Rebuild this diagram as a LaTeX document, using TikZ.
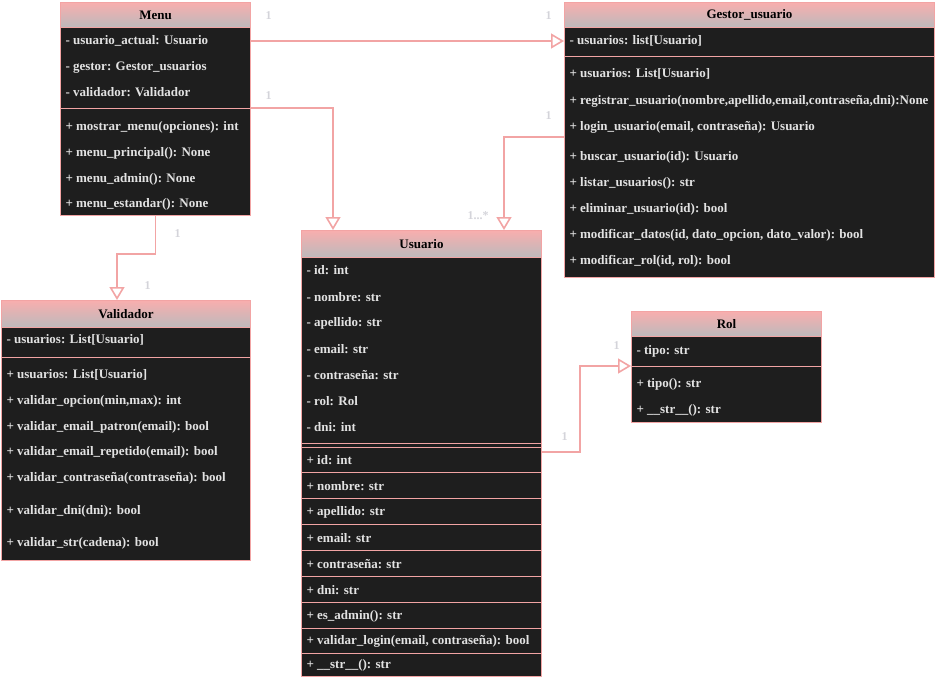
\documentclass[tikz,border=0pt]{standalone}
\usepackage{fontspec}
\setmainfont{Liberation Serif}
\usetikzlibrary{arrows.meta}

\definecolor{pinkline}{RGB}{242,164,164}
\definecolor{headtop}{RGB}{248,174,174}
\definecolor{headbottom}{RGB}{188,186,188}
\definecolor{bodyfill}{RGB}{30,30,30}
\definecolor{rowtext}{RGB}{226,226,226}
\definecolor{multgray}{RGB}{212,212,218}

\newcommand{\umlfont}{\bfseries\fontsize{13}{15}\selectfont}

\tikzset{every picture/.style={line width=1pt}}
\tikzset{
  classhead/.style={draw=pinkline, top color=headtop, bottom color=headbottom, inner sep=0pt, anchor=north west, font=\umlfont, text=black},
  classbody/.style={draw=pinkline, fill=bodyfill, inner sep=0pt, anchor=north west},
  row/.style={anchor=west, inner sep=0pt, font=\umlfont, text=rowtext},
  sepline/.style={draw=pinkline, line width=1pt},
  assoc/.style={draw=pinkline, line width=1.6pt, -{Triangle[open, length=13pt, width=15pt]}},
  mult/.style={anchor=west, inner sep=0pt, font=\bfseries\fontsize{12}{13}\selectfont, text=multgray}
}

\begin{document}
\begin{tikzpicture}[x=1pt,y=1pt,yscale=-1,xscale=1]
\useasboundingbox (0,0) rectangle (946,691);

%Class Menu
\node [classbody, minimum width=190pt, minimum height=188pt] (menubody) at (60,27) {};
\node [classhead, minimum width=190pt, minimum height=25pt] (menu) at (60,2) {Menu};
\draw [sepline] (60,108) -- (250,108);
% Text Node
\node [row] (menu-a1) at (65,41) {- usuario\_actual: Usuario};
\node [row] (menu-a2) at (65,67) {- gestor: Gestor\_usuarios};
\node [row] (menu-a3) at (65,92) {- validador: Validador};
\node [row] (menu-m1) at (65,127) {+ mostrar\_menu(opciones): int};
\node [row] (menu-m2) at (65,153) {+ menu\_principal(): None};
\node [row] (menu-m3) at (65,179) {+ menu\_admin(): None};
\node [row] (menu-m4) at (65,204) {+ menu\_estandar(): None};

%Class Gestor_usuario
\node [classbody, minimum width=370pt, minimum height=250pt] (gestorbody) at (564,27) {};
\node [classhead, minimum width=370pt, minimum height=25pt] (gestor) at (564,2) {Gestor\_usuario};
\draw [sepline] (564,56) -- (934,56);
% Text Node
\node [row] (gestor-a1) at (569,41) {- usuarios: list[Usuario]};
\node [row] (gestor-m1) at (569,74) {+ usuarios: List[Usuario]};
\node [row] (gestor-m2) at (569,101) {+ registrar\_usuario(nombre,apellido,email,contraseña,dni):None};
\node [row] (gestor-m3) at (569,127) {+ login\_usuario(email, contraseña): Usuario};
\node [row] (gestor-m4) at (569,157) {+ buscar\_usuario(id): Usuario};
\node [row] (gestor-m5) at (569,183) {+ listar\_usuarios(): str};
\node [row] (gestor-m6) at (569,209) {+ eliminar\_usuario(id): bool};
\node [row] (gestor-m7) at (569,235) {+ modificar\_datos(id, dato\_opcion, dato\_valor): bool};
\node [row] (gestor-m8) at (569,261) {+ modificar\_rol(id, rol): bool};

%Class Usuario
\node [classbody, minimum width=240pt, minimum height=419pt] (usuariobody) at (301,257) {};
\node [classhead, minimum width=240pt, minimum height=27pt] (usuario) at (301,230) {Usuario};
\draw [sepline] (301,443) -- (541,443);
\draw [sepline] (301,447) -- (541,447);
\draw [sepline] (301,472) -- (541,472);
\draw [sepline] (301,498) -- (541,498);
\draw [sepline] (301,524) -- (541,524);
\draw [sepline] (301,550) -- (541,550);
\draw [sepline] (301,576) -- (541,576);
\draw [sepline] (301,602) -- (541,602);
\draw [sepline] (301,628) -- (541,628);
\draw [sepline] (301,653) -- (541,653);
% Text Node
\node [row] (usuario-a1) at (306,270) {- id: int};
\node [row] (usuario-a2) at (306,297) {- nombre: str};
\node [row] (usuario-a3) at (306,323) {- apellido: str};
\node [row] (usuario-a4) at (306,349) {- email: str};
\node [row] (usuario-a5) at (306,375) {- contraseña: str};
\node [row] (usuario-a6) at (306,401) {- rol: Rol};
\node [row] (usuario-a7) at (306,427) {- dni: int};
\node [row] (usuario-m1) at (306,460) {+ id: int};
\node [row] (usuario-m2) at (306,486) {+ nombre: str};
\node [row] (usuario-m3) at (306,512) {+ apellido: str};
\node [row] (usuario-m4) at (306,538) {+ email: str};
\node [row] (usuario-m5) at (306,564) {+ contraseña: str};
\node [row] (usuario-m6) at (306,590) {+ dni: str};
\node [row] (usuario-m7) at (306,616) {+ es\_admin(): str};
\node [row] (usuario-m8) at (306,641) {+ validar\_login(email, contraseña): bool};
\node [row] (usuario-m9) at (306,665) {+ \_\_str\_\_(): str};

%Class Validador
\node [classbody, minimum width=249pt, minimum height=233pt] (validadorbody) at (1,327) {};
\node [classhead, minimum width=249pt, minimum height=27pt] (validador) at (1,300) {Validador};
\draw [sepline] (1,357) -- (250,357);
% Text Node
\node [row] (validador-a1) at (6,340) {- usuarios: List[Usuario]};
\node [row] (validador-m1) at (6,375) {+ usuarios: List[Usuario]};
\node [row] (validador-m2) at (6,401) {+ validar\_opcion(min,max): int};
\node [row] (validador-m3) at (6,427) {+ validar\_email\_patron(email): bool};
\node [row] (validador-m4) at (6,452) {+ validar\_email\_repetido(email): bool};
\node [row] (validador-m5) at (6,478) {+ validar\_contraseña(contraseña): bool};
\node [row] (validador-m6) at (6,511) {+ validar\_dni(dni): bool};
\node [row] (validador-m7) at (6,543) {+ validar\_str(cadena): bool};

%Class Rol
\node [classbody, minimum width=190pt, minimum height=86pt] (rolbody) at (631,336) {};
\node [classhead, minimum width=190pt, minimum height=25pt] (rol) at (631,311) {Rol};
\draw [sepline] (631,366) -- (821,366);
% Text Node
\node [row] (rol-a1) at (636,351) {- tipo: str};
\node [row] (rol-m1) at (636,384) {+ tipo(): str};
\node [row] (rol-m2) at (636,410) {+ \_\_str\_\_(): str};

%Connectors
\coordinate (menu-out) at (250,108);
\coordinate (usuario-in-a) at (333,230);
\coordinate (gestor-out) at (564,137);
\coordinate (usuario-in-b) at (504,230);
\coordinate (validador-in) at (117,300);
\coordinate (usuario-out) at (541,452);
\coordinate (rol-in) at (631,366);
\draw [assoc] (menubody.east |- menu-a1) -- (gestorbody.west |- menu-a1);
\draw [assoc] (menu-out) -| (usuario-in-a);
\draw [assoc] (gestor-out) -| (usuario-in-b);
\draw [assoc] (menubody.south) -- ++(0,38) -| (validador-in);
\draw [assoc] (usuario-out) -- ++(39,0) |- (rol-in);

%Multiplicities
\node [mult] (m1) at (265,16) {1};
\node [mult] (m2) at (545,16) {1};
\node [mult] (m3) at (265,96) {1};
\node [mult] (m4) at (545,116) {1};
\node [mult] (m5) at (467,216) {1...*};
\node [mult] (m6) at (174,234) {1};
\node [mult] (m7) at (144,286) {1};
\node [mult] (m8) at (613,346) {1};
\node [mult] (m9) at (561,437) {1};
\end{tikzpicture}
\end{document}
